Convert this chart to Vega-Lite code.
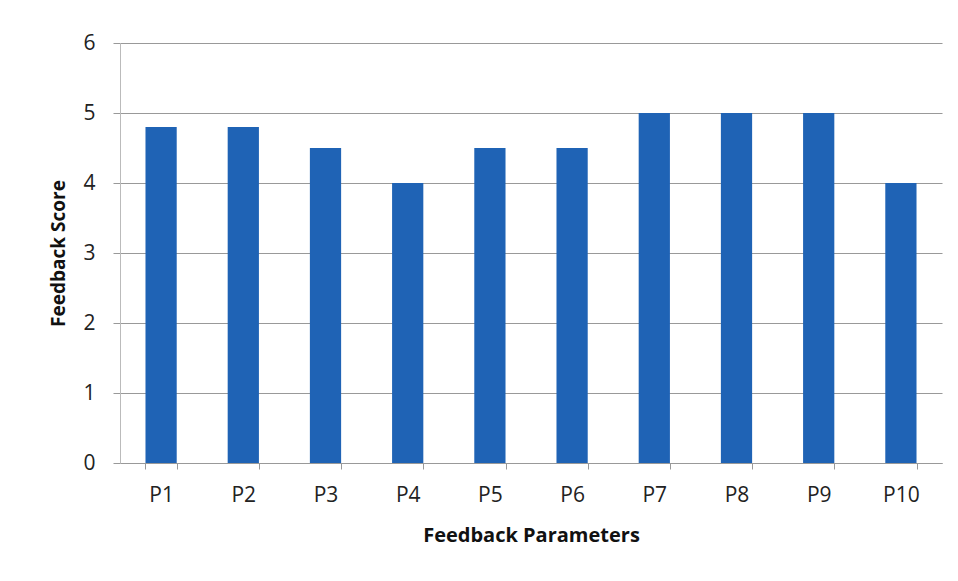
{
  "$schema": "https://vega.github.io/schema/vega-lite/v6.json",
  "width": 822,
  "height": 420,
  "autosize": {"type": "none"},
  "padding": {"left": 120, "top": 43, "right": 16, "bottom": 118},
  "background": "white",
  "data": {"values": [
    {"param": "P1", "score": 4.8},
    {"param": "P2", "score": 4.8},
    {"param": "P3", "score": 4.5},
    {"param": "P4", "score": 4.0},
    {"param": "P5", "score": 4.5},
    {"param": "P6", "score": 4.5},
    {"param": "P7", "score": 5.0},
    {"param": "P8", "score": 5.0},
    {"param": "P9", "score": 5.0},
    {"param": "P10", "score": 4.0}
  ]},
  "mark": {"type": "bar", "color": "#1f63b5"},
  "encoding": {
    "x": {
      "field": "param", "type": "nominal", "sort": null,
      "scale": {"paddingInner": 0.62, "paddingOuter": 0.31},
      "axis": {
        "title": "Feedback Parameters", "labelAngle": 0, "tickBand": "extent",
        "labelFont": "Open Sans", "labelFontSize": 21, "labelColor": "#222",
        "labelPadding": 15, "tickSize": 6, "tickColor": "#999", "domainColor": "#999",
        "titleFont": "Open Sans", "titleFontSize": 20, "titleFontWeight": "bold",
        "titleColor": "#111", "titlePadding": 20
      }
    },
    "y": {
      "field": "score", "type": "quantitative",
      "scale": {"domain": [0, 6], "nice": false},
      "axis": {
        "title": "Feedback Score", "values": [0, 1, 2, 3, 4, 5, 6], "labelOverlap": false,
        "labelFont": "Open Sans", "labelFontSize": 21, "labelColor": "#222",
        "labelPadding": 18, "tickSize": 7, "tickColor": "#999", "domainColor": "#bbb",
        "gridColor": "#999", "gridWidth": 1,
        "titleFont": "Open Sans", "titleFontSize": 19, "titleFontWeight": "bold",
        "titleColor": "#111", "titlePadding": 14
      }
    }
  },
  "config": {"view": {"stroke": null}}
}
